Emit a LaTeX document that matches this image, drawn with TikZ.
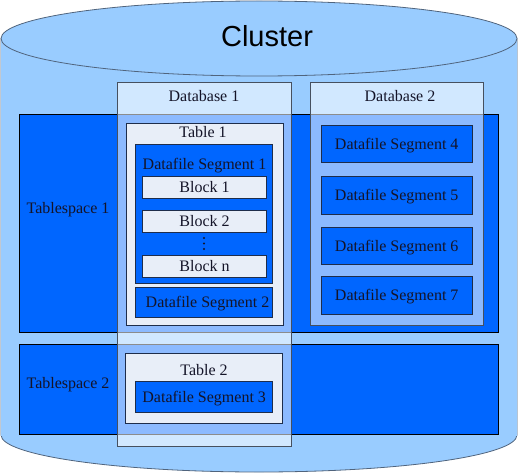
\documentclass[tikz,border=0pt]{standalone}
\usepackage{fontspec}
\setmainfont{Liberation Serif}
\newfontfamily\clusterfont{Liberation Sans}
\usetikzlibrary{positioning}
\definecolor{cylblue}{RGB}{153,204,255}
\definecolor{cyledge}{RGB}{80,100,125}
\definecolor{tsblue}{RGB}{0,102,255}
\definecolor{tablefill}{RGB}{232,238,248}
\definecolor{segedge}{RGB}{30,45,75}
\definecolor{dbedge}{RGB}{70,80,95}
\definecolor{textcol}{RGB}{20,20,40}

\begin{document}
\begin{tikzpicture}[x=1pt,y=-1pt,
  cyl/.style={fill=cylblue,draw=cyledge,line width=0.8pt},
  tspace/.style={fill=tsblue,draw=black,line width=0.8pt},
  dbase/.style={fill=white,fill opacity=0.55,draw=dbedge,line width=0.8pt},
  tbl/.style={fill=tablefill,draw=segedge,line width=0.8pt},
  lbl/.style={font=\rmfamily\fontsize{16}{19}\selectfont,text=textcol,inner sep=0pt,
    text height=10.6pt,text depth=0pt},
  seg/.style={lbl,fill=tsblue,draw=segedge,line width=0.8pt},
  blk/.style={lbl,fill=tablefill,draw=segedge,line width=0.8pt}]
  \useasboundingbox (0,0) rectangle (518,473);

  % cylinder
  \path[cyl] (1,38.5) -- (1,435)
    arc[start angle=180, end angle=0, x radius=258, y radius=37]
    -- (517,38.5);
  \fill[cylblue] (1.4,38.5) rectangle (516.6,436);
  \draw[cyl] (259,38.5) ellipse [x radius=258, y radius=37.5];
  \node[font=\clusterfont\fontsize{29}{34}\selectfont,inner sep=0pt] (cluster) at (267,36) {Cluster};

  % tablespaces
  \draw[tspace] (19.5,114) rectangle (498.5,332.5);
  \node[lbl] (ts1) at (68,208) {Tablespace 1};
  \draw[tspace] (19.5,344) rectangle (498.5,434);
  \node[lbl] (ts2) at (68,383) {Tablespace 2};

  % databases
  \draw[dbase] (117.5,82) rectangle (291,446);
  \node[lbl] (db1) at (204,96) {Database 1};
  \draw[dbase] (310,82) rectangle (483.5,325);
  \node[lbl] (db2) at (400,96) {Database 2};

  % table 1
  \draw[tbl] (126.5,123.5) rectangle (283.5,325);
  \node[lbl] (tab1) at (203,132) {Table 1};
  \draw[seg] (135.5,144) rectangle (272.5,283.5);
  \node[lbl] (seg1) at (204.5,164) {Datafile Segment 1};
  \node[blk, minimum width=124.4pt, minimum height=22.4pt] (blk1) at (204.5,187.5) {Block 1};
  \node[blk, minimum width=124.4pt, minimum height=22.4pt] (blk2) at (204.5,221.3) {Block 2};
  \foreach \y in {238,243.5,249}
    \fill[textcol] (204,\y) circle (1.1);
  \node[blk, minimum width=124.4pt, minimum height=22.4pt] (blkn) at (204.5,266.5) {Block n};
  \node[seg, minimum width=137pt, minimum height=30.4pt] (seg2) at (204,302.5) {\hspace{7pt}Datafile Segment 2};

  % table 2
  \draw[tbl] (125.7,353.7) rectangle (282.7,423.3);
  \node[lbl] (tab2) at (204,370) {Table 2};
  \node[seg, minimum width=137pt, minimum height=30.7pt] (seg3) at (204.2,396.7) {Datafile Segment 3};

  % database 2 segments
  \node[seg, minimum width=151.3pt, minimum height=37.7pt] (seg4) at (396.7,143.8) {Datafile Segment 4};
  \node[seg, minimum width=151.3pt, minimum height=37.7pt] (seg5) at (396.7,195.2) {Datafile Segment 5};
  \node[seg, minimum width=151.3pt, minimum height=37.7pt] (seg6) at (396.7,246) {Datafile Segment 6};
  \node[seg, minimum width=151.3pt, minimum height=37.7pt] (seg7) at (396.7,295.2) {Datafile Segment 7};
\end{tikzpicture}
\end{document}
